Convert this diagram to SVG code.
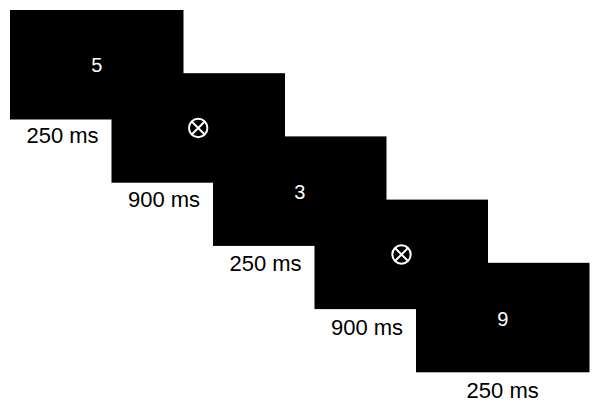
<svg xmlns="http://www.w3.org/2000/svg" width="600" height="409" viewBox="0 0 600 409">
  <defs>
    <style>
      .screen { fill: #000; }
      .digit { fill: #fff; font-family: "Liberation Sans", Arial, sans-serif; font-size: 20px; text-anchor: middle; }
      .dur { fill: #000; font-family: "Liberation Sans", Arial, sans-serif; font-size: 22px; text-anchor: middle; }
      .fix { fill: none; stroke: #fff; stroke-width: 2; }
    </style>
    <g id="fixation">
      <circle class="fix" cx="0" cy="0" r="9.2"/>
      <line class="fix" x1="-6.5" y1="-6.5" x2="6.5" y2="6.5"/>
      <line class="fix" x1="-6.5" y1="6.5" x2="6.5" y2="-6.5"/>
    </g>
  </defs>
  <rect width="600" height="409" fill="#fff"/>

  <g id="screen1">
    <rect class="screen" x="10" y="10" width="173.5" height="109.5"/>
    <text class="digit" x="96.8" y="72">5</text>
    <text class="dur" x="62.5" y="143">250 ms</text>
  </g>

  <g id="screen2">
    <rect class="screen" x="111.5" y="73.2" width="173.5" height="109.5"/>
    <use href="#fixation" x="198.2" y="128"/>
    <text class="dur" x="164" y="206.5">900 ms</text>
  </g>

  <g id="screen3">
    <rect class="screen" x="213" y="136.4" width="173.5" height="109.5"/>
    <text class="digit" x="299.8" y="198.5">3</text>
    <text class="dur" x="265.5" y="271">250 ms</text>
  </g>

  <g id="screen4">
    <rect class="screen" x="314.5" y="199.6" width="173.5" height="109.5"/>
    <use href="#fixation" x="401.5" y="254.5"/>
    <text class="dur" x="367" y="334.5">900 ms</text>
  </g>

  <g id="screen5">
    <rect class="screen" x="416" y="262.8" width="173.5" height="109.5"/>
    <text class="digit" x="502.8" y="325.8">9</text>
    <text class="dur" x="502.7" y="398">250 ms</text>
  </g>
</svg>
